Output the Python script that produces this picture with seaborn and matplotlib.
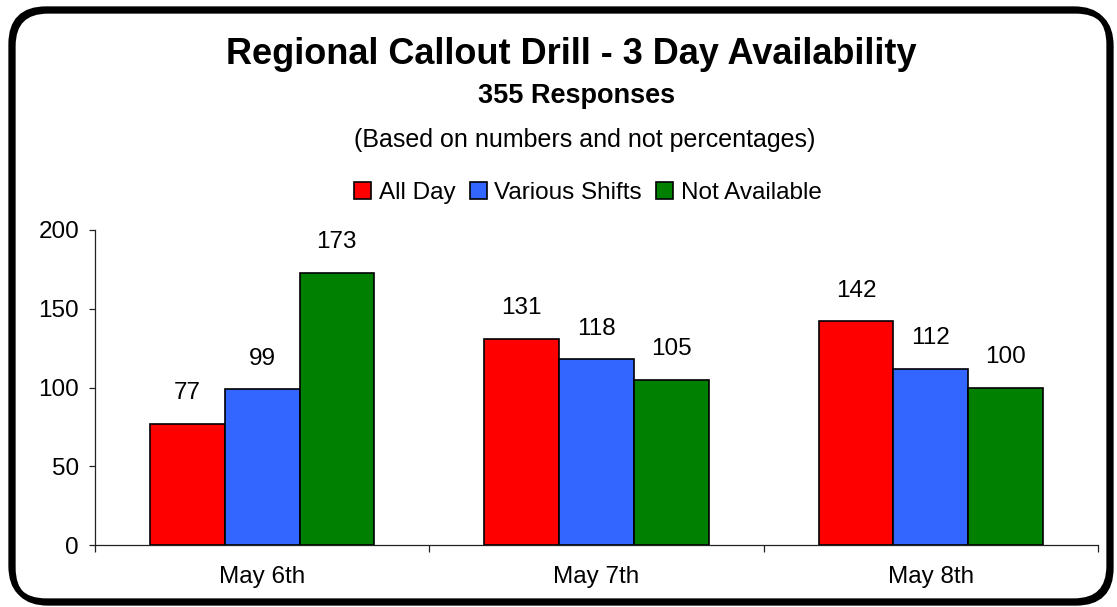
import matplotlib
matplotlib.use("Agg")
import matplotlib.pyplot as plt
from matplotlib.patches import FancyBboxPatch
from matplotlib.ticker import FixedLocator, NullFormatter
import pandas as pd
import seaborn as sns

# values
days = ["May 6th", "May 7th", "May 8th"]
statuses = ["All Day", "Various Shifts", "Not Available"]
all_day = [77, 131, 142]
various_shifts = [99, 118, 112]
not_available = [173, 105, 100]
y_ticks = [0, 50, 100, 150, 200]

colors = ["#FF0000", "#3366FF", "#008000"]


def build_frame() -> pd.DataFrame:
    rows = []
    for status, values in zip(statuses, [all_day, various_shifts, not_available]):
        for day, value in zip(days, values):
            rows.append({"day": day, "status": status, "count": value})
    return pd.DataFrame(rows)


def main() -> None:
    sns.set_theme(style="ticks")
    plt.rcParams["font.family"] = ["Liberation Sans", "DejaVu Sans"]
    plt.rcParams["text.color"] = "black"

    fig = plt.figure(figsize=(11.17, 6.07), dpi=100)
    ax = fig.add_axes([95 / 1117, 1 - 545 / 607, 1003 / 1117, 315 / 607])

    df = build_frame()
    sns.barplot(
        data=df,
        x="day",
        y="count",
        hue="status",
        order=days,
        hue_order=statuses,
        palette=colors,
        saturation=1,
        width=0.67,
        edgecolor="black",
        linewidth=1.2,
        errorbar=None,
        ax=ax,
    )

    for container in ax.containers:
        ax.bar_label(container, padding=14, fontsize=17.5, color="black")

    ax.set_xlim(-0.5, 2.5)
    ax.set_ylim(0, 200)
    ax.set_yticks(y_ticks)
    ax.set_xlabel("")
    ax.set_ylabel("")
    for side in ["top", "right"]:
        ax.spines[side].set_visible(False)
    for side in ["left", "bottom"]:
        ax.spines[side].set_linewidth(0.9)
        ax.spines[side].set_color("#222222")

    ax.tick_params(axis="y", labelsize=17.5, length=4.5, width=0.9, pad=7,
                   color="#222222", labelcolor="black")
    ax.tick_params(axis="x", which="major", labelsize=17.5, length=0, pad=15,
                   labelcolor="black")
    # Excel-style category ticks between the groups
    ax.xaxis.set_minor_locator(FixedLocator([-0.5, 0.5, 1.5, 2.5]))
    ax.xaxis.set_minor_formatter(NullFormatter())
    ax.tick_params(axis="x", which="minor", length=5, width=0.9, color="#222222")

    handles, labels = ax.get_legend_handles_labels()
    if ax.get_legend() is not None:
        ax.get_legend().remove()
    fig.legend(
        handles,
        labels,
        loc="center",
        bbox_to_anchor=(588 / 1117, 1 - 193 / 607),
        ncol=3,
        frameon=False,
        fontsize=17.5,
        labelcolor="black",
        handlelength=0.7,
        handleheight=0.7,
        handletextpad=0.3,
        columnspacing=0.6,
    )

    fig.text(571 / 1117, 1 - 55 / 607, "Regional Callout Drill - 3 Day Availability",
             ha="center", va="center", fontsize=26, fontweight="bold", color="black")
    fig.text(577 / 1117, 1 - 96 / 607, "355 Responses",
             ha="center", va="center", fontsize=19.5, fontweight="bold", color="black")
    fig.text(585 / 1117, 1 - 140 / 607, "(Based on numbers and not percentages)",
             ha="center", va="center", fontsize=18, color="black")

    # rounded outer border with a slight shadow on the right/bottom
    shadow = FancyBboxPatch((0.13, 0.04), 10.98, 5.92,
                            boxstyle="round,pad=0,rounding_size=0.35",
                            transform=fig.dpi_scale_trans, fill=False,
                            edgecolor="black", linewidth=3.8)
    frame = FancyBboxPatch((0.11, 0.06), 10.98, 5.92,
                           boxstyle="round,pad=0,rounding_size=0.35",
                           transform=fig.dpi_scale_trans, fill=False,
                           edgecolor="black", linewidth=3.8)
    fig.patches.extend([shadow, frame])

    fig.savefig("out.png", dpi=100)
    plt.close(fig)


if __name__ == "__main__":
    main()
